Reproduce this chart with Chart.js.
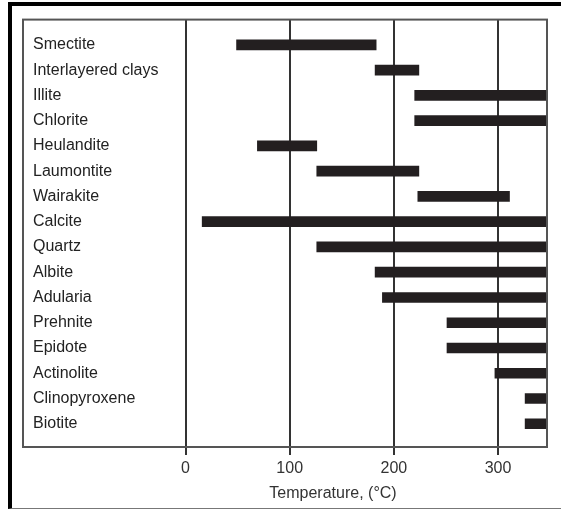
<!DOCTYPE html>
<html>
<head>
<meta charset="utf-8">
<script src="https://cdn.jsdelivr.net/npm/chart.js@4"></script>
<style>
  html, body { margin: 0; padding: 0; background: #fff; }
  #frame {
    position: absolute; left: 8px; top: 2px; width: 553px; height: 507px;
    box-sizing: border-box;
    border-top: 4px solid #000; border-left: 4px solid #000; border-bottom: 1px solid #777;
  }
  #rangeChart { position: absolute; left: 0; top: 0; }
</style>
</head>
<body>
<div id="frame"></div>
<canvas id="rangeChart" width="561" height="510"></canvas>
<script>
'use strict'

const minerals = ['Smectite', 'Interlayered clays', 'Illite', 'Chlorite', 'Heulandite', 'Laumontite',
  'Wairakite', 'Calcite', 'Quartz', 'Albite', 'Adularia', 'Prehnite', 'Epidote', 'Actinolite',
  'Clinopyroxene', 'Biotite'];
// temperature range of each mineral, °C (ranges open to the top run past the axis end)
const tempFrom = [49, 182, 220, 220, 69, 126, 223, 16, 126, 182, 189, 251, 251, 297, 326, 326];
const tempTo = [183, 224, 360, 360, 126, 224, 311, 360, 360, 360, 360, 360, 360, 360, 360, 360];
const tempTicks = [0, 100, 200, 300];

const ink = '#231f20';
const font = { family: '"Liberation Sans", Arial, sans-serif', size: 16 };

const ctx = document.getElementById('rangeChart');

// box round the plot area
const plotBox = {
  id: 'plotBox',
  afterDatasetsDraw(chart) {
    const { ctx, chartArea: a } = chart;
    ctx.save();
    ctx.strokeStyle = '#555';
    ctx.lineWidth = 2;
    ctx.strokeRect(a.left, a.top, a.right - a.left, a.bottom - a.top);
    ctx.restore();
  }
};

// axis title sits under the temperature ticks
const axisTitle = {
  id: 'axisTitle',
  afterDraw(chart) {
    const c = chart.ctx;
    c.save();
    c.font = font.size + 'px ' + font.family;
    c.fillStyle = '#333';
    c.textAlign = 'center';
    c.textBaseline = 'middle';
    c.fillText('Temperature, (°C)', 333, 494);
    c.restore();
  }
};

new Chart(ctx, {
  type: 'bar',
  data: {
    datasets: [{
      data: minerals.map((m, i) => ({ y: i, x: [tempFrom[i], tempTo[i]] })),
      backgroundColor: ink,
      borderWidth: 0,
      barThickness: 10,
    }]
  },
  options: {
    indexAxis: 'y',
    responsive: false,
    animation: false,
    layout: { padding: { left: 23, top: 18, right: 14, bottom: 0 } },
    plugins: {
      legend: { display: false },
      tooltip: { enabled: false }
    },
    scales: {
      x: {
        type: 'linear',
        min: -156,
        max: 347,
        afterBuildTicks: s => { s.ticks = tempTicks.map(v => ({ value: v })); },
        afterFit: s => { s.height = 63; },
        grid: { color: '#333', lineWidth: 2, tickLength: 8, tickColor: '#333' },
        border: { display: false },
        ticks: { color: '#333', font, padding: 4 }
      },
      y: {
        type: 'linear',
        offset: false,
        min: -1,
        max: 15.92,
        reverse: true,
        afterBuildTicks: s => { s.ticks = minerals.map((m, i) => ({ value: i })); },
        afterFit: s => { s.width = 0; },
        grid: { display: false, offset: false },
        border: { display: false },
        ticks: {
          mirror: true,
          padding: 10,
          color: '#222',
          font,
          callback: v => minerals[v]
        }
      }
    }
  },
  plugins: [plotBox, axisTitle]
});
</script>
</body>
</html>
